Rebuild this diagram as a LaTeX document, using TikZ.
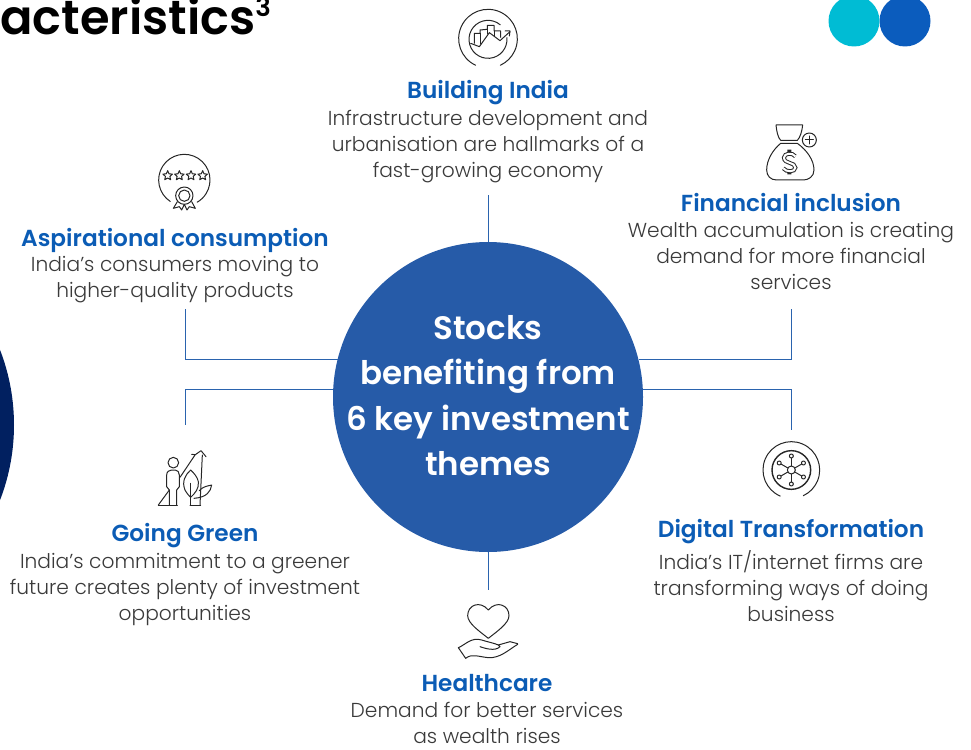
\documentclass[tikz,border=0pt]{standalone}
\usepackage{fontspec}
\setmainfont{Poppins Light}
\newfontfamily\medfont{Poppins SemiBold}
\definecolor{hubblue}{HTML}{265BA8}
\definecolor{titleblue}{HTML}{0B5CB5}
\definecolor{bodygrey}{HTML}{3A3A3A}
\definecolor{linkblue}{HTML}{2A63AE}
\definecolor{teal}{HTML}{00BCD4}
\definecolor{dotblue}{HTML}{0B5CBD}
\definecolor{navy}{HTML}{012060}
\tikzset{
  titletext/.style={inner sep=0pt,text=titleblue,font=\medfont\fontsize{23.2}{26}\selectfont},
  bodytext/.style={inner sep=0pt,align=center,text=bodygrey,font=\fontsize{20.2}{26}\selectfont},
  link/.style={draw=linkblue,line width=1pt},
  icon/.style={draw=black!85,line width=1pt,line join=round,line cap=round},
  zoomed/.style 2 args={shift={(#1,#2)},scale=0.33333},
}
\begin{document}
\begin{tikzpicture}[x=1pt,y=1pt,yscale=-1]
\useasboundingbox (0,0) rectangle (971,749);
% decorations
\begin{scope}
\clip (0,0) rectangle (971,749);
\fill[navy] (-194,425) circle[radius=208];
\fill[dotblue] (905,21) circle[radius=25.5];
\fill[teal] (854,21) circle[radius=25.5];
\end{scope}
\node[anchor=base west,inner sep=0pt,text=black,font=\medfont\fontsize{47.9}{50}\selectfont] (heading) at (0,35) {acteristics\raisebox{18pt}{\fontsize{26}{30}\selectfont 3}};
% hub
\node[circle,fill=hubblue,minimum size=310pt,inner sep=0pt] (hub) at (488,397) {};
\node[inner sep=0pt,align=center,text=white,font=\medfont\fontsize{32.5}{45.5}\selectfont] (hubtext) at (488,395.5) {Stocks\\benefiting from\\6 key investment\\themes};
% connector ends
\coordinate (topend) at (488,195);
\coordinate (botend) at (488,590);
\coordinate (luend) at (185,309);
\coordinate (lucorner) at (185,359);
\coordinate (llend) at (185,425);
\coordinate (llcorner) at (185,389);
\coordinate (ruend) at (791,309);
\coordinate (rucorner) at (791,359);
\coordinate (rlend) at (791,430);
\coordinate (rlcorner) at (791,389);
\coordinate (hublu) at (hub.165.8 |- lucorner);
\coordinate (hubll) at (hub.177 |- llcorner);
\coordinate (hubru) at (hub.14.2 |- rucorner);
\coordinate (hubrl) at (hub.3 |- rlcorner);
\draw[link] (hub.north) -- (topend);
\draw[link] (hub.south) -- (botend);
\draw[link] (hublu) -- (lucorner) -- (luend);
\draw[link] (hubll) -- (llcorner) -- (llend);
\draw[link] (hubru) -- (rucorner) -- (ruend);
\draw[link] (hubrl) -- (rlcorner) -- (rlend);
% texts
\node[titletext] (t1) at (488,93) {Building India};
\node[bodytext] (b1) at (488,147) {Infrastructure development and\\urbanisation are hallmarks of a\\fast-growing economy};
\node[titletext] (t2) at (791,203) {Financial inclusion};
\node[bodytext] (b2) at (791,256) {Wealth accumulation is creating\\demand for more financial\\services};
\node[titletext] (t3) at (175,240) {Aspirational consumption};
\node[bodytext] (b3) at (175,280) {India’s consumers moving to\\higher-quality products};
\node[titletext] (t4) at (185,536) {Going Green};
\node[bodytext] (b4) at (185,590) {India’s commitment to a greener\\future creates plenty of investment\\opportunities};
\node[titletext] (t5) at (791,532) {Digital Transformation};
\node[bodytext] (b5) at (791,586) {India’s IT/internet firms are\\transforming ways of doing\\business};
\node[titletext] (t6) at (487,683) {Healthcare};
\node[bodytext,font=\fontsize{20.2}{25.5}\selectfont] (b6) at (487,723) {Demand for better services\\as wealth rises};
% icon: building india
\begin{scope}[zoomed={430}{0}]
\draw[icon] (174,116) ++(115:88) arc[start angle=115,end angle=425,radius=88];
\draw[icon] (174,118) ++(-5:57) arc[start angle=-5,end angle=310,radius=57];
\draw[icon] (133,130) -- (133,100) -- (150,100) -- (150,90) -- (172,88) -- (172,76) -- (192,76) -- (192,93) -- (212,93) -- (212,112);
\draw[icon] (150,100) -- (150,132);
\draw[icon] (172,88) -- (172,102);
\draw[icon] (192,93) -- (192,108);
\draw[icon] (122,130) -- (148,140) -- (178,98) -- (210,122) -- (240,95);
\draw[icon] (225,93) -- (240,93) -- (238,108);
\end{scope}
% icon: money bag
\begin{scope}[zoomed={740}{115}]
\draw[icon] (108,30) -- (188,30) .. controls (186,50) and (180,68) .. (172,76) -- (122,76) .. controls (114,68) and (110,50) .. (108,30) -- cycle;
\draw[icon] (122,85) -- (172,85) .. controls (200,105) and (222,135) .. (222,165) .. controls (222,185) and (205,195) .. (190,195) -- (110,195) .. controls (92,195) and (80,183) .. (80,165) .. controls (80,135) and (98,105) .. (122,85);
\draw[icon] (208,75) circle[radius=21];
\draw[icon] (196,75) -- (220,75) (208,63) -- (208,87);
\draw[black!85,line width=4pt] (166,124) .. controls (158,112) and (132,114) .. (132,128) .. controls (132,148) and (166,140) .. (166,158) .. controls (166,172) and (138,172) .. (130,160) (148,104) -- (148,112) (148,170) -- (148,178);
\draw[white,line width=2pt] (166,124) .. controls (158,112) and (132,114) .. (132,128) .. controls (132,148) and (166,140) .. (166,158) .. controls (166,172) and (138,172) .. (130,160);
\end{scope}
% icon: stars and medal
\begin{scope}[zoomed={140}{145}]
\draw[icon] (133,105) ++(123:77) arc[start angle=123,end angle=420,radius=77];
\foreach \sx in {83,118,153,188}
  \draw[icon,shift={(\sx,92)}] plot[variable=\i,samples at={0,...,9}] ({-90+36*\i}:{15-8*mod(\i,2)}) -- cycle;
\draw[icon] (133,152) circle[radius=26];
\draw[icon] (133,152) circle[radius=17];
\draw[icon] (112,170) -- (100,190) -- (118,185) -- (125,195) -- (133,178) -- (141,195) -- (148,185) -- (166,190) -- (155,170);
\end{scope}
% icon: going green
\begin{scope}[zoomed={140}{440}]
\draw[icon] (100,68) circle[radius=16];
\draw[icon] (88,195) -- (88,150) -- (80,140) -- (80,105) .. controls (80,95) and (88,90) .. (95,90) -- (106,90) .. controls (113,90) and (118,97) .. (118,105) -- (118,140) -- (110,150) -- (110,195);
\draw[icon] (55,195) -- (88,150);
\draw[icon] (55,195) -- (112,195);
\draw[icon] (150,195) -- (182,195);
\draw[icon] (120,112) -- (165,45);
\draw[icon] (155,43) -- (166,44) -- (183,32) -- (198,50);
\draw[icon] (187,45) -- (180,195);
\draw[icon] (152,90) .. controls (135,105) and (125,125) .. (135,150) .. controls (140,160) and (148,168) .. (152,172) .. controls (165,160) and (178,145) .. (175,125) .. controls (172,110) and (162,100) .. (152,90) -- cycle;
\draw[icon] (152,130) -- (152,195);
\draw[icon] (178,152) .. controls (190,138) and (205,138) .. (215,135) .. controls (212,155) and (200,172) .. (162,175);
\end{scope}
% icon: digital
\begin{scope}[zoomed={750}{430}]
\draw[icon] (124,120) ++(113:85) arc[start angle=113,end angle=425,radius=85];
\draw[icon,line width=1.4pt] (124,120) circle[radius=58];
\draw[icon] (124,120) circle[radius=12];
\foreach \a in {30,90,150,210,270,330} {
  \draw[icon] (124,120) ++(\a:12) -- ++(\a:24);
  \draw[icon] (124,120) ++(\a:42) circle[radius=6];
}
\end{scope}
% icon: healthcare
\begin{scope}[zoomed={445}{595}]
\draw[icon] (130,45) .. controls (105,15) and (68,30) .. (68,62) .. controls (68,85) and (105,110) .. (130,130) .. controls (155,110) and (192,85) .. (192,62) .. controls (192,30) and (155,15) .. (130,45) -- cycle;
\draw[icon] (40,158) -- (62,190);
\draw[icon] (40,158) .. controls (60,150) and (80,125) .. (110,135) .. controls (125,140) and (150,145) .. (160,150) -- (195,140) -- (218,146);
\draw[icon] (62,190) .. controls (80,175) and (100,185) .. (130,188) .. controls (165,190) and (190,165) .. (218,148);
\draw[icon] (105,155) .. controls (120,160) and (150,170) .. (165,155) -- (160,150);
\end{scope}
\end{tikzpicture}
\end{document}
